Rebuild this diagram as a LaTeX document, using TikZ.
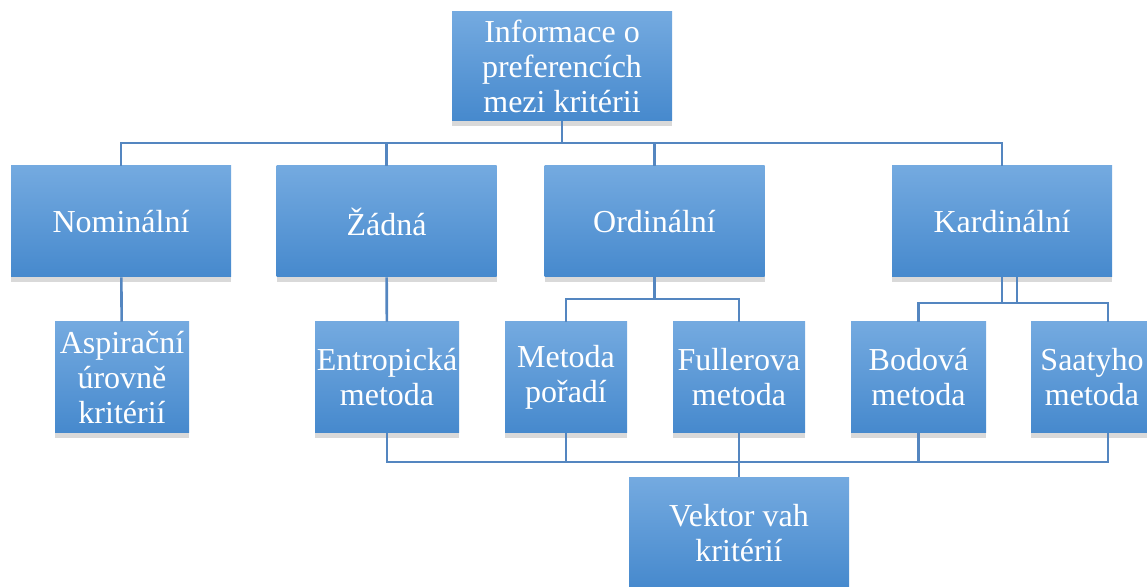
\documentclass[tikz,border=0pt]{standalone}
\usepackage{fontspec}
\setmainfont{Liberation Serif}
\usetikzlibrary{shadows}
\definecolor{boxtop}{RGB}{116,170,224}
\definecolor{boxbot}{RGB}{70,137,205}
\definecolor{linkblue}{RGB}{84,134,192}
\begin{document}
\begin{tikzpicture}[x=0.5pt,y=-0.5pt,
  box/.style={rectangle, top color=boxtop, bottom color=boxbot, text=white,
    align=center, inner sep=0pt, font=\fontsize{16}{17.5}\selectfont,
    minimum height=55.5pt,
    drop shadow={shadow xshift=0pt, shadow yshift=-2.5pt, opacity=0.3}},
  bigbox/.style={box, minimum width=110pt},
  link/.style={draw=linkblue, line width=1.3pt}]
\clip (0,0) rectangle (1147,587);
\node[bigbox, minimum height=54.5pt] (info) at (562,66.5) {Informace o\\preferencích\\mezi kritérii};
\node[bigbox] (nomin) at (121,221.5) {Nominální};
\node[bigbox] (zadna) at (386.5,221.5) {Žádná};
\node[bigbox] (ordin) at (654.5,221.5) {Ordinální};
\node[bigbox] (kardin) at (1002,221.5) {Kardinální};
\node[box, minimum width=67pt] (aspir) at (122,377.5) {Aspirační\\úrovně\\kritérií};
\node[box, minimum width=72pt] (entrop) at (387,377.5) {Entropická\\metoda};
\node[box, minimum width=61pt] (poradi) at (566,377.5) {Metoda\\pořadí};
\node[box, minimum width=66pt] (fuller) at (739,377.5) {Fullerova\\metoda};
\node[box, minimum width=67.5pt] (bodova) at (918.5,377.5) {Bodová\\metoda};
\node[box, minimum width=61pt] (saaty) at (1092,377.5) {Saatyho\\metoda};
\node[bigbox] (vektor) at (739,533) {Vektor vah\\kritérií};
\coordinate (topbar) at (562,143);
\coordinate (ordbar) at (654.5,299);
\coordinate (kardbar) at (1002,303);
\coordinate (botbar) at (739,462);
\draw[link] (info) -- (topbar) -| (nomin);
\draw[link] (topbar) -| (zadna);
\draw[link] (topbar) -| (ordin);
\draw[link] (topbar) -| (kardin);
\draw[link] (nomin) -- (aspir);
\draw[link] (zadna) -- (entrop);
\draw[link] (ordin) -- (ordbar) -| (poradi);
\draw[link] (ordbar) -| (fuller);
\draw[link] (kardin) -- (kardbar) -| (bodova);
\draw[link] (kardbar) -| ([xshift=8pt]saaty.north);
\draw[link] ([xshift=7.5pt]kardin.south) -- ++(0,26);
\draw[link] (entrop) |- (botbar);
\draw[link] (poradi) |- (botbar);
\draw[link] (bodova) |- (botbar);
\draw[link] ([xshift=8pt]saaty.south) |- (botbar);
\draw[link] (fuller) -- (vektor);
\end{tikzpicture}
\end{document}
